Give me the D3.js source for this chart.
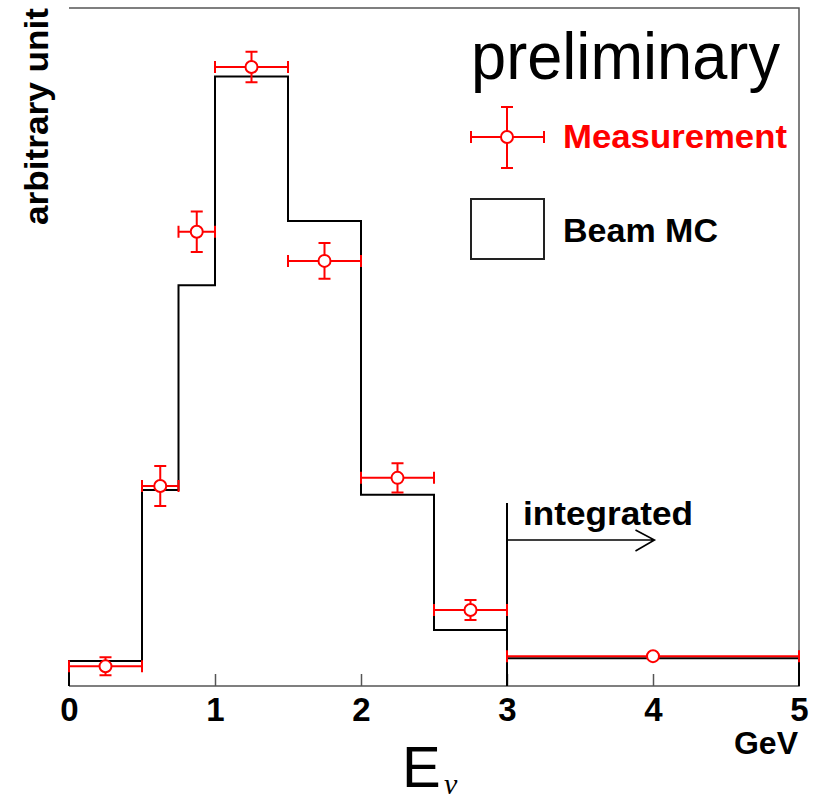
<!DOCTYPE html>
<html>
<head>
<meta charset="utf-8">
<script src="https://cdn.jsdelivr.net/npm/d3@7"></script>
<style>
  html, body { margin: 0; padding: 0; background: #fff; }
  svg { display: block; }
  text { font-family: "Liberation Sans", Arial, sans-serif; }
</style>
</head>
<body>
<svg id="chart" width="814" height="802"></svg>
<script>
// Bin edges of the energy histogram (GeV); the last bin is integrated up to 5 GeV
const binEdges = [0, 0.5, 0.75, 1.0, 1.5, 2.0, 2.5, 3.0, 5.0];
// Beam MC prediction per bin (arbitrary unit)
const mcValues = [3.69, 28.9, 59.1, 89.9, 68.6, 28.2, 8.26, 4.09];
// Measured spectrum per bin and its uncertainty
const measValues = [2.9, 29.5, 67.0, 91.3, 62.7, 30.7, 11.2, 4.4];
const measErrors = [1.33, 2.95, 3.0, 2.26, 2.65, 2.17, 1.47, 0.2];
const xTicks = [0, 1, 2, 3, 4, 5];

const svg = d3.select("#chart");
const plotLeft = 69, plotRight = 799, plotTop = 8, plotBottom = 686;

const x = d3.scaleLinear().domain([0, 5]).range([plotLeft, plotRight]);
const y = d3.scaleLinear().domain([0, 100]).range([plotBottom, plotTop]);

const red = "#ff0000";
const frameColor = "#555";

// Frame: top, right, bottom (no left axis line)
svg.append("path")
  .attr("d", `M${plotLeft},${plotTop}H${plotRight}V${plotBottom}H${plotLeft}`)
  .attr("fill", "none").attr("stroke", frameColor).attr("stroke-width", 1.5);

// X axis ticks pointing inward, and bold labels
const xAxis = d3.axisBottom(x).tickValues(xTicks).tickSizeInner(-12).tickSizeOuter(0)
  .tickFormat(d3.format("d"));
const gx = svg.append("g").attr("transform", `translate(0,${plotBottom})`).call(xAxis);
gx.select(".domain").remove();
gx.selectAll(".tick line").attr("stroke", frameColor).attr("stroke-width", 1.5)
  .filter(d => d === 0 || d === 5).remove();
gx.selectAll(".tick text")
  .attr("fill", "#000").attr("font-size", 33).attr("font-weight", "bold")
  .attr("font-family", "'Liberation Sans', Arial, sans-serif")
  .attr("dy", null).attr("y", 35);

// Beam MC step histogram
let d = `M${x(binEdges[0])},${y(0)}`;
mcValues.forEach((v, i) => {
  d += `V${y(v)}H${x(binEdges[i + 1])}`;
});
d += `V${y(0)}`;
svg.append("path").attr("d", d).attr("fill", "none")
  .attr("stroke", "#000").attr("stroke-width", 2);

// "integrated" marker line and arrow from 3 GeV
svg.append("line")
  .attr("x1", x(3)).attr("x2", x(3)).attr("y1", 503).attr("y2", plotBottom)
  .attr("stroke", "#000").attr("stroke-width", 2);
svg.append("path")
  .attr("d", `M${x(3)},540H${x(4.01)}M${x(3.88)},530L${x(4.01)},540L${x(3.88)},551`)
  .attr("fill", "none").attr("stroke", "#000").attr("stroke-width", 1.6);
svg.append("text").attr("x", 523).attr("y", 525)
  .attr("font-size", 34).attr("font-weight", "bold")
  .attr("textLength", 170).attr("lengthAdjust", "spacingAndGlyphs")
  .text("integrated");

// Measurement points with error bars
const r = 6, cap = 6;
const meas = measValues.map((v, i) => ({
  x0: binEdges[i], x1: binEdges[i + 1], xc: (binEdges[i] + binEdges[i + 1]) / 2,
  v, e: measErrors[i]
}));
const gm = svg.append("g").attr("stroke", red).attr("stroke-width", 2).attr("fill", "none");
meas.forEach(p => {
  const cx = x(p.xc), cy = y(p.v);
  const xl = x(p.x0), xr = x(p.x1);
  const yt = y(p.v + p.e), yb = y(p.v - p.e);
  let path = `M${xl},${cy}H${xr}`;
  path += `M${xl},${cy - cap}V${cy + cap}M${xr},${cy - cap}V${cy + cap}`;
  if (cy - yt > r) {
    path += `M${cx},${yt}V${yb}`;
    path += `M${cx - cap},${yt}H${cx + cap}M${cx - cap},${yb}H${cx + cap}`;
  }
  gm.append("path").attr("d", path);
  gm.append("circle").attr("cx", cx).attr("cy", cy).attr("r", r).attr("fill", "#fff");
});

// Annotation
svg.append("text").attr("x", 471).attr("y", 79)
  .attr("font-size", 66).attr("textLength", 309).attr("lengthAdjust", "spacingAndGlyphs")
  .text("preliminary");

// Legend
const lg = svg.append("g");
const lx = 507, ly = 137;
lg.append("path")
  .attr("d", `M471,${ly}H544M471,${ly - cap}V${ly + cap}M544,${ly - cap}V${ly + cap}` +
             `M${lx},107V168M${lx - cap},107H${lx + cap}M${lx - cap},168H${lx + cap}`)
  .attr("stroke", red).attr("stroke-width", 2).attr("fill", "none");
lg.append("circle").attr("cx", lx).attr("cy", ly).attr("r", r)
  .attr("fill", "#fff").attr("stroke", red).attr("stroke-width", 2);
lg.append("text").attr("x", 563).attr("y", 148)
  .attr("font-size", 34).attr("font-weight", "bold").attr("fill", red)
  .attr("textLength", 224).attr("lengthAdjust", "spacingAndGlyphs")
  .text("Measurement");
lg.append("rect").attr("x", 471).attr("y", 199).attr("width", 73).attr("height", 60)
  .attr("fill", "#fff").attr("stroke", "#222").attr("stroke-width", 2);
lg.append("text").attr("x", 563).attr("y", 242)
  .attr("font-size", 34).attr("font-weight", "bold")
  .attr("textLength", 155).attr("lengthAdjust", "spacingAndGlyphs")
  .text("Beam MC");

// Axis titles
svg.append("text")
  .attr("transform", `translate(48,${plotTop}) rotate(-90)`)
  .attr("text-anchor", "end")
  .attr("font-size", 34).attr("font-weight", "bold")
  .attr("textLength", 217).attr("lengthAdjust", "spacingAndGlyphs")
  .text("arbitrary unit");
svg.append("text").attr("x", 798).attr("y", 754).attr("text-anchor", "end")
  .attr("font-size", 32).attr("font-weight", "bold")
  .text("GeV");
const eTitle = svg.append("text").attr("x", 402).attr("y", 787).attr("font-size", 58);
eTitle.append("tspan").text("E");
eTitle.append("tspan")
  .attr("x", 444).attr("y", 794).attr("font-size", 30)
  .attr("font-family", "'Liberation Serif', 'DejaVu Serif', serif")
  .attr("font-style", "italic")
  .text("ν");
</script>
</body>
</html>
